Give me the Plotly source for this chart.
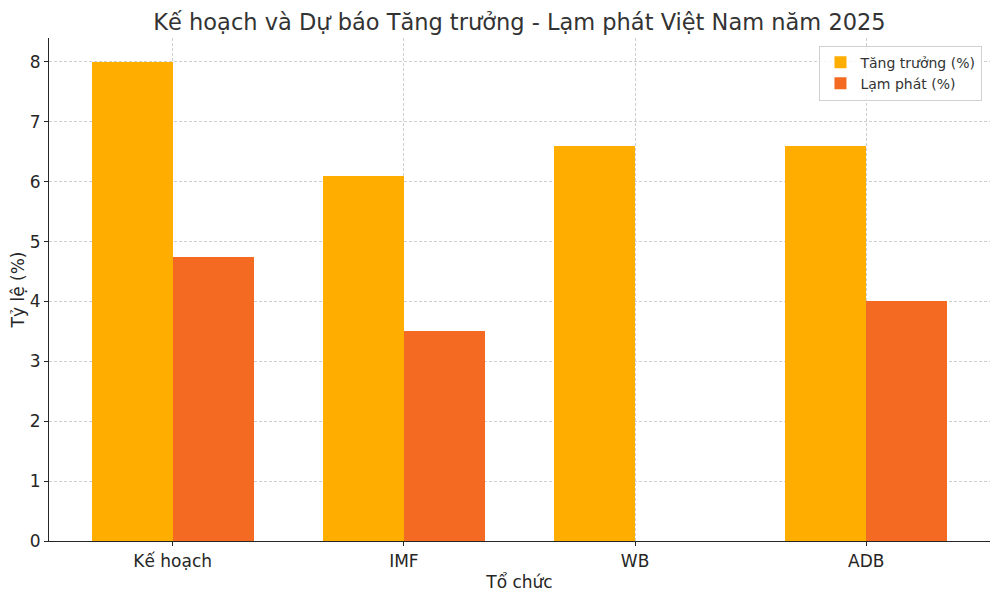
import plotly.graph_objects as go

categories = ["Kế hoạch", "IMF", "WB", "ADB"]
growth = [8.0, 6.1, 6.6, 6.6]
inflation = [4.75, 3.5, None, 4.0]
y_ticks = [0, 1, 2, 3, 4, 5, 6, 7, 8]

bar_w = 0.35
pos = list(range(len(categories)))

fig = go.Figure()
fig.add_trace(go.Bar(
    x=[p - bar_w / 2 for p in pos], y=growth, width=bar_w,
    name="Tăng trưởng (%)", marker=dict(color="#FFAE00", line_width=0),
))
fig.add_trace(go.Bar(
    x=[p + bar_w / 2 for p in pos], y=inflation, width=bar_w,
    name="Lạm phát (%)", marker=dict(color="#F46A22", line_width=0),
))

# the page body adds an 8px offset, so margins are shifted to compensate
fig.update_layout(
    width=1000, height=596,
    margin=dict(l=41, r=18, t=30, b=63),
    paper_bgcolor="white", plot_bgcolor="white",
    font=dict(family="DejaVu Sans", size=17, color="#262626"),
    title=dict(text="Kế hoạch và Dự báo Tăng trưởng - Lạm phát Việt Nam năm 2025",
               x=0.5115, xanchor="center", y=0.977, yanchor="middle",
               font=dict(size=22.5, color="#333333")),
    barmode="overlay", bargap=0,
    showlegend=True,
    legend=dict(x=0.992, xanchor="right", y=0.985, yanchor="top",
                bgcolor="rgba(255,255,255,0.8)", bordercolor="#d0d0d0", borderwidth=1,
                font=dict(size=14, color="#333333")),
)
grid = dict(showgrid=True, gridcolor="#cfcfcf", griddash="3px,2px", gridwidth=0.8,
            showline=True, linecolor="#262626", linewidth=1.2,
            ticks="outside", ticklen=4, tickcolor="#262626",
            tickfont=dict(size=17), zeroline=False, automargin=False)
fig.update_xaxes(
    range=[-0.535, 3.535], tickmode="array", tickvals=pos, ticktext=categories,
    title=dict(text="Tổ chức", font=dict(size=17), standoff=6), **grid,
)
fig.update_yaxes(
    range=[0, 8.4], tickmode="array", tickvals=y_ticks,
    title=dict(text="Tỷ lệ (%)", font=dict(size=17), standoff=8), **grid,
)

fig.write_html("out.html")
